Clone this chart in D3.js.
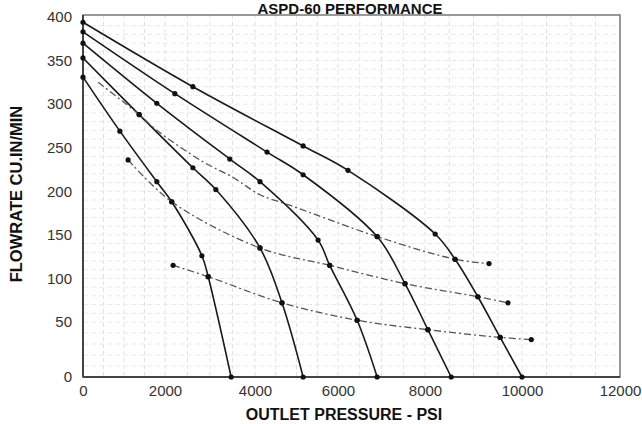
<!DOCTYPE html>
<html><head><meta charset="utf-8">
<script src="https://cdn.jsdelivr.net/npm/d3@7"></script>
<style>
html,body{margin:0;padding:0;background:#fff;}
svg{display:block;}
</style></head>
<body>
<svg id="chart" width="642" height="424"></svg>
<script>
// ---- data ----
const chartTitle = "ASPD-60 PERFORMANCE";
const xTitle = "OUTLET PRESSURE - PSI";
const yTitle = "FLOWRATE CU.IN/MIN";
const xTicks = [0, 2000, 4000, 6000, 8000, 10000, 12000];
const yTicks = [0, 50, 100, 150, 200, 250, 300, 350, 400];

// solid pump curves: [psi, flow, marker]
const curve1 = [[0,331,1],[900,269,1],[1800,211,1],[2150,188,1],[2820,126,1],[2960,102,1],[3470,0,1]];
const curve2 = [[0,353,1],[1370,288,1],[2620,227,1],[3130,202,1],[4120,135,1],[4650,72,1],[5160,0,1]];
const curve3 = [[0,370,1],[1800,301,1],[3440,237,1],[4120,211,1],[5520,144,1],[5800,115,1],[6440,52,1],[6900,0,1]];
const curve4 = [[0,383,1],[2220,312,1],[4290,245,1],[5160,219,1],[6900,148,1],[7540,94,1],[8060,43,1],[8540,0,1]];
const curve5 = [[0,394,1],[2620,320,1],[5160,252,1],[6230,224,1],[8210,151,1],[8620,122,1],[9090,79,1],[9550,36,1],[10000,0,1]];

// dash-dot curves: [psi, flow, marker]
const dashed1 = [[370,325,0],[1370,288,1],[1800,270,0],[2840,234,0],[3510,216,0],[4120,196,0],[4840,184,0],[6900,148,1],[8620,122,1],[9320,117,1]];
const dashed2 = [[1100,236,1],[2150,188,1],[4120,135,1],[5800,115,1],[7540,94,1],[9090,79,1],[9710,72,1]];
const dashed3 = [[2180,115,1],[2960,102,1],[4650,72,1],[6440,52,1],[8060,43,1],[9550,36,1],[10190,34,1]];

const solidCurves = [curve1, curve2, curve3, curve4, curve5];
const dashedCurves = [dashed1, dashed2, dashed3];

// ---- layout ----
const svg = d3.select("#chart");
const pLeft = 83, pRight = 620, pTop = 15, pBottom = 377;

const x = d3.scaleLinear().domain(xTicks).range([83, 165, 255, 338, 425, 522, 620]);
const y = d3.scaleLinear().domain([0, 50, 400]).range([377, 322, 17]);

// faint graph-paper grid
const grid = svg.append("g").attr("class", "grid");
const vGrid = d3.range(500, 12000, 500);
const hGrid = d3.range(10, 400, 10);
grid.selectAll("line.v").data(vGrid).join("line")
  .attr("x1", d => x(d)).attr("x2", d => x(d))
  .attr("y1", pTop).attr("y2", pBottom)
  .attr("stroke", "#e0e0e0").attr("stroke-width", 1)
  .attr("stroke-dasharray", "4,3");
grid.selectAll("line.h").data(hGrid).join("line")
  .attr("x1", pLeft).attr("x2", pRight)
  .attr("y1", d => y(d)).attr("y2", d => y(d))
  .attr("stroke", "#eaeaea").attr("stroke-width", 1)
  .attr("stroke-dasharray", "5,3");

// frame
svg.append("rect").attr("x", pLeft).attr("y", pTop)
  .attr("width", pRight - pLeft).attr("height", pBottom - pTop)
  .attr("fill", "none").attr("stroke", "#777").attr("stroke-width", 1.5);
svg.append("line").attr("x1", pLeft).attr("x2", pRight).attr("y1", pBottom).attr("y2", pBottom)
  .attr("stroke", "#444").attr("stroke-width", 2);
svg.append("line").attr("x1", pLeft).attr("x2", pLeft).attr("y1", pTop).attr("y2", pBottom)
  .attr("stroke", "#444").attr("stroke-width", 2);

// axes
const xAxis = svg.append("g").attr("transform", `translate(0,${pBottom})`)
  .call(d3.axisBottom(x).tickValues(xTicks).tickSize(0).tickPadding(8).tickFormat(d3.format("d")));
const yAxis = svg.append("g").attr("transform", `translate(${pLeft},0)`)
  .call(d3.axisLeft(y).tickValues(yTicks).tickSize(0).tickPadding(11).tickFormat(d3.format("d")));
[xAxis, yAxis].forEach(g => {
  g.select(".domain").remove();
  g.selectAll("text").attr("font-family", "Liberation Sans, Arial, sans-serif")
    .attr("font-size", 15).attr("fill", "#333");
});

// lines
const line = d3.line().x(d => x(d[0])).y(d => y(d[1])).curve(d3.curveCatmullRom.alpha(0.5));
svg.append("g").selectAll("path").data(solidCurves).join("path")
  .attr("d", line).attr("fill", "none").attr("stroke", "#1a1a1a").attr("stroke-width", 1.6);
svg.append("g").selectAll("path").data(dashedCurves).join("path")
  .attr("d", line).attr("fill", "none").attr("stroke", "#555").attr("stroke-width", 1.3)
  .attr("stroke-dasharray", "7,3,2,3");

// markers
const pts = solidCurves.concat(dashedCurves).flat().filter(d => d[2]);
svg.append("g").selectAll("circle").data(pts).join("circle")
  .attr("cx", d => x(d[0])).attr("cy", d => y(d[1])).attr("r", 2.6).attr("fill", "#111");

// titles
svg.append("text").attr("x", 350).attr("y", 14).attr("text-anchor", "middle")
  .attr("font-family", "Liberation Sans, Arial, sans-serif").attr("font-weight", "bold")
  .attr("font-size", 15).attr("fill", "#111").text(chartTitle);
svg.append("text").attr("x", 344).attr("y", 420).attr("text-anchor", "middle")
  .attr("font-family", "Liberation Sans, Arial, sans-serif").attr("font-weight", "bold")
  .attr("font-size", 16).attr("fill", "#111").text(xTitle);
svg.append("text").attr("transform", "translate(22,194) rotate(-90)").attr("text-anchor", "middle")
  .attr("font-family", "Liberation Sans, Arial, sans-serif").attr("font-weight", "bold")
  .attr("font-size", 16.5).attr("fill", "#111").text(yTitle);
</script>
</body></html>
